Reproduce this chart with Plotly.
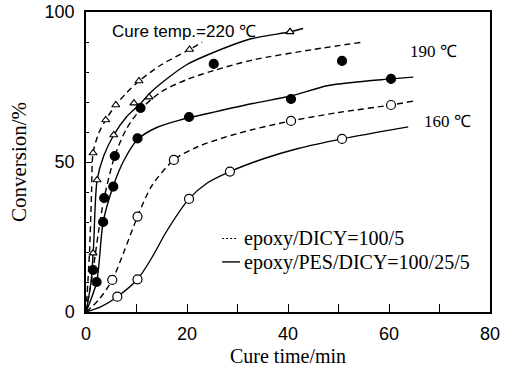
import plotly.graph_objects as go

# ---- data (time in min, conversion in %) ----
# 220 C, epoxy/DICY (dashed, open triangles)
t220_dicy = [1.4, 3.9, 5.9, 10.5, 20.5]
c220_dicy = [53, 64, 69, 77, 87.5]
t220_dicy_fit = [0, 0.7, 1.1, 1.4, 2.5, 3.9, 5.9, 8, 10.5, 15, 20.5, 23]
c220_dicy_fit = [0, 20, 40, 53, 59.5, 64, 69, 73, 77, 82.5, 87.5, 90]

# 220 C, epoxy/PES/DICY (solid, open triangles)
t220_pes = [1.4, 2.2, 5.5, 9.5, 12.5, 40.4]
c220_pes = [19.6, 44, 59, 69.6, 71.6, 93.4]
t220_pes_fit = [0, 1.0, 1.5, 2.2, 3.5, 5.5, 8, 10.5, 13, 16.6, 20, 24.5, 32.5, 40.4, 43]
c220_pes_fit = [0, 10, 22, 44, 52, 59, 65, 69, 73.5, 78.5, 82.5, 86, 91, 93.4, 94.5]

# 190 C, epoxy/DICY (dashed, filled circles)
t190_dicy = [1.4, 3.6, 5.7, 10.8, 25.3, 50.7]
c190_dicy = [14, 38, 52, 68, 82.7, 83.7]
t190_dicy_fit = [0, 1.4, 2.5, 3.6, 5.7, 8, 10.8, 15, 20, 25.3, 33, 45, 55]
c190_dicy_fit = [0, 14, 27, 38, 52, 61, 67.5, 73.5, 77.5, 80.5, 84, 87.5, 90]

# 190 C, epoxy/PES/DICY (solid, filled circles)
t190_pes = [2.1, 3.4, 5.4, 10.2, 20.4, 40.6, 60.4]
c190_pes = [10, 30, 41.8, 57.9, 65, 71, 77.7]
t190_pes_fit = [0, 2.1, 3.4, 5.4, 7.5, 10.2, 14, 18.6, 25, 33, 40.6, 48, 60.4, 64.8]
c190_pes_fit = [0, 10, 30, 42, 50.5, 57.5, 61.5, 64, 66.5, 69.5, 72, 75.5, 77.7, 78.3]

# 160 C, epoxy/DICY (dashed, open circles)
t160_dicy = [5.2, 10.2, 17.4, 40.6, 60.4]
c160_dicy = [10.7, 31.8, 50.7, 63.7, 69]
t160_dicy_fit = [0, 2.5, 5.2, 7.5, 10.2, 13, 17.4, 22, 30, 40.6, 50, 60.4, 64.8]
c160_dicy_fit = [0, 4, 10.7, 20, 31.8, 42, 50.7, 55, 59.5, 63.7, 66.5, 69, 70.3]

# 160 C, epoxy/PES/DICY (solid, open circles)
t160_pes = [6.2, 10.2, 20.4, 28.5, 50.7]
c160_pes = [5.1, 10.9, 37.7, 46.8, 57.7]
t160_pes_fit = [0, 3, 6.2, 10.2, 13, 16, 20.4, 24, 28.5, 35, 42, 50.7, 63.8]
c160_pes_fit = [0, 1.8, 5.1, 10.9, 18, 27, 37.7, 43, 46.8, 51, 54.5, 57.7, 61.7]

x_ticks = [0, 10, 20, 30, 40, 50, 60, 70, 80]
x_ticktext = ["0", "", "20", "", "40", "", "60", "", "80"]
y_ticks = [0, 50, 100]
y_ticktext = ["0", "50", "100"]

SERIF = "Liberation Serif, Times New Roman, serif"
SANS = "Liberation Sans, Arial, sans-serif"

fig = go.Figure()

def add_curve(tf, cf, dashed):
    fig.add_trace(go.Scatter(
        x=tf, y=cf, mode="lines",
        line=dict(color="black", width=1.4, shape="spline", smoothing=0.8,
                  dash="6px,4px" if dashed else "solid"),
        showlegend=False, hoverinfo="skip"))

def add_pts(t, c, symbol, fill):
    fig.add_trace(go.Scatter(
        x=t, y=c, mode="markers",
        marker=dict(symbol=symbol, size=9 if "circle" in symbol else 7,
                    color=fill, line=dict(color="black", width=1.2)),
        showlegend=False))

add_curve(t220_dicy_fit, c220_dicy_fit, True)
add_curve(t220_pes_fit, c220_pes_fit, False)
add_curve(t190_dicy_fit, c190_dicy_fit, True)
add_curve(t190_pes_fit, c190_pes_fit, False)
add_curve(t160_dicy_fit, c160_dicy_fit, True)
add_curve(t160_pes_fit, c160_pes_fit, False)

add_pts(t220_dicy, c220_dicy, "triangle-up", "white")
add_pts(t220_pes, c220_pes, "triangle-up", "white")
add_pts(t190_dicy, c190_dicy, "circle", "black")
add_pts(t190_pes, c190_pes, "circle", "black")
add_pts(t160_dicy, c160_dicy, "circle", "white")
add_pts(t160_pes, c160_pes, "circle", "white")

# text labels
fig.add_annotation(x=0.06, y=0.935, xref="paper", yref="paper", xanchor="left", yanchor="middle",
                   text="Cure temp.=220 ℃", showarrow=False,
                   font=dict(family=SANS, size=17, color="black"))
fig.add_annotation(x=0.797, y=0.87, xref="paper", yref="paper", xanchor="left", yanchor="middle",
                   text="190 ℃", showarrow=False, font=dict(family=SERIF, size=17, color="black"))
fig.add_annotation(x=0.832, y=0.635, xref="paper", yref="paper", xanchor="left", yanchor="middle",
                   text="160 ℃", showarrow=False, font=dict(family=SERIF, size=17, color="black"))

# legend
fig.add_shape(type="line", xref="paper", yref="paper", x0=0.337, x1=0.374, y0=0.245, y1=0.245,
              line=dict(color="black", width=1.2, dash="2px,2px"))
fig.add_shape(type="line", xref="paper", yref="paper", x0=0.337, x1=0.381, y0=0.167, y1=0.167,
              line=dict(color="black", width=1.4))
fig.add_annotation(x=0.386, y=0.245, xref="paper", yref="paper", xanchor="left", yanchor="middle",
                   text="epoxy/DICY=100/5", showarrow=False,
                   font=dict(family=SERIF, size=20, color="black"))
fig.add_annotation(x=0.386, y=0.165, xref="paper", yref="paper", xanchor="left", yanchor="middle",
                   text="epoxy/PES/DICY=100/25/5", showarrow=False,
                   font=dict(family=SERIF, size=20, color="black"))

fig.update_layout(
    width=510, height=374,
    margin=dict(l=86, r=20, t=12, b=62),
    paper_bgcolor="white", plot_bgcolor="white",
    xaxis=dict(range=[0, 80], tickvals=x_ticks, ticktext=x_ticktext, ticks="inside",
               ticklen=8, tickwidth=1.3, tickcolor="black", automargin=False,
               showline=True, linecolor="black", linewidth=1.5, mirror=True,
               showgrid=False, zeroline=False, ticklabelstandoff=5,
               tickfont=dict(family=SANS, size=18, color="black"),
               title=dict(text="Cure time/min", font=dict(family=SERIF, size=20, color="black"),
                          standoff=6)),
    yaxis=dict(range=[0, 100], tickvals=y_ticks, ticktext=y_ticktext, ticks="inside",
               ticklen=6, tickwidth=1.2, tickcolor="black", automargin=False,
               minor=dict(dtick=10, ticks="inside", ticklen=3, tickcolor="black"),
               showline=True, linecolor="black", linewidth=1.5, mirror=True,
               showgrid=False, zeroline=False, ticklabelstandoff=6,
               tickfont=dict(family=SANS, size=18, color="black"),
               title=dict(text="Conversion/%", font=dict(family=SERIF, size=21, color="black"),
                          standoff=12)),
)

fig.write_html("out.html")
